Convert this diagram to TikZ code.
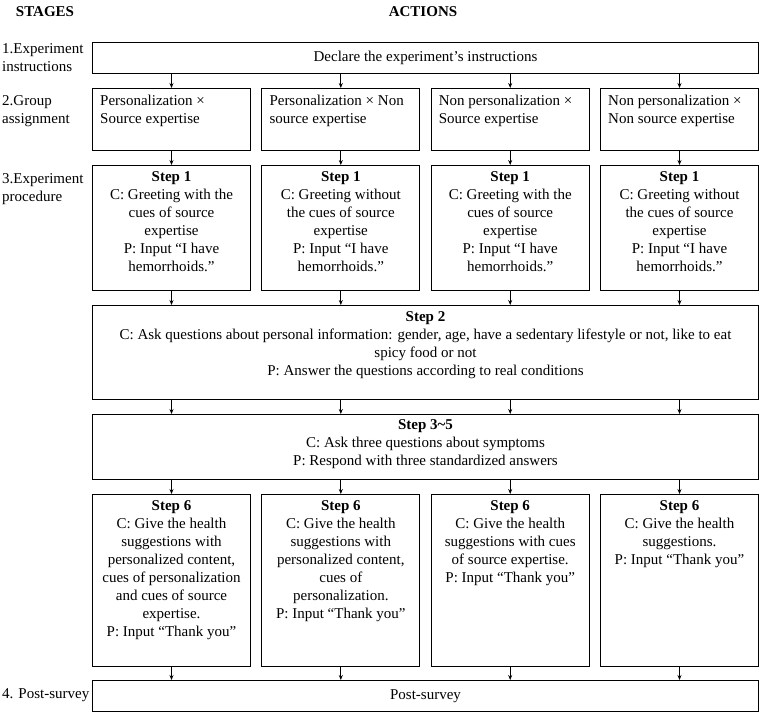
\documentclass[tikz,border=0pt]{standalone}
\usepackage{fontspec}
\setmainfont{Liberation Serif}
\usetikzlibrary{arrows.meta,positioning}

\tikzset{
  frame/.style={draw, line width=1pt, inner sep=0pt},
  txt/.style={font=\fontsize{15}{18}\selectfont, inner sep=1pt, align=center},
  head/.style={font=\fontsize{15}{18}\selectfont\bfseries, inner sep=1pt},
  flow/.style={-{Stealth[length=5pt,width=4pt]}, line width=0.8pt},
}

\begin{document}
\begin{tikzpicture}[x=1pt,y=-1pt]
            \useasboundingbox (0,0) rectangle (760,715);
            % headings
            \node[head] (stages) at (45,12) {STAGES};
            \node[head] (actions) at (423,12) {ACTIONS};
            % stage labels
            \node[txt, align=left, anchor=west] (lblInstr) at (1,57.5) {1.Experiment\\instructions};
            \node[txt, align=left, anchor=west] (lblGroup) at (1,111) {2.Group\\assignment};
            \node[txt, align=left, anchor=west] (lblProc) at (1,189) {3.Experiment\\procedure};
            \node[txt, align=left, anchor=west] (lblPost) at (1,695.5) {4. Post-survey};
            % full width boxes
            \node[frame, txt, minimum width=666pt, minimum height=31pt, anchor=north west] (instr) at (92,42) {Declare the experiment’s instructions};
            \node[frame, minimum width=666pt, minimum height=94pt, anchor=north west] (sTwo) at (92,305) {};
            \node[frame, minimum width=666pt, minimum height=65pt, anchor=north west] (sThree) at (92,414) {};
            \node[frame, txt, minimum width=666pt, minimum height=31pt, anchor=north west] (post) at (92,680) {Post-survey};
            % column boxes
            \foreach \i/\x in {A/92, B/261.3, C/430.7, D/600}{
                \node[frame, minimum width=158pt, minimum height=62pt, anchor=north west] (grp\i) at (\x,88) {};
                \node[frame, minimum width=158pt, minimum height=125pt, anchor=north west] (sOne\i) at (\x,165) {};
                \node[frame, minimum width=158pt, minimum height=172pt, anchor=north west] (sSix\i) at (\x,494) {};
            }
            % group texts
            \node[txt, align=left, below right=6pt and 7pt of grpA.north west] (tGrpA) {Personalization ×\\Source expertise};
            \node[txt, align=left, below right=6pt and 7pt of grpB.north west] (tGrpB) {Personalization × Non\\source expertise};
            \node[txt, align=left, below right=6pt and 7pt of grpC.north west] (tGrpC) {Non personalization ×\\Source expertise};
            \node[txt, align=left, below right=6pt and 7pt of grpD.north west] (tGrpD) {Non personalization ×\\Non source expertise};
            % step 1
            \node[txt, below=5pt of sOneA.north] (tOneA) {\textbf{Step 1}\\C: Greeting with the\\cues of source\\expertise\\P: Input “I have\\hemorrhoids.”};
            \node[txt, below=5pt of sOneB.north] (tOneB) {\textbf{Step 1}\\C: Greeting without\\the cues of source\\expertise\\P: Input “I have\\hemorrhoids.”};
            \node[txt, below=5pt of sOneC.north] (tOneC) {\textbf{Step 1}\\C: Greeting with the\\cues of source\\expertise\\P: Input “I have\\hemorrhoids.”};
            \node[txt, below=5pt of sOneD.north] (tOneD) {\textbf{Step 1}\\C: Greeting without\\the cues of source\\expertise\\P: Input “I have\\hemorrhoids.”};
            % step 2 and steps 3~5
            \node[txt, below=5pt of sTwo.north] (tTwo) {\textbf{Step 2}\\C: Ask questions about personal information: gender, age, have a sedentary lifestyle or not, like to eat\\spicy food or not\\P: Answer the questions according to real conditions};
            \node[txt, below=4pt of sThree.north] (tThree) {\textbf{Step 3\textasciitilde5}\\C: Ask three questions about symptoms\\P: Respond with three standardized answers};
            % step 6
            \node[txt, below=5pt of sSixA.north] (tSixA) {\textbf{Step 6}\\C: Give the health\\suggestions with\\personalized content,\\cues of personalization\\and cues of source\\expertise.\\P: Input “Thank you”};
            \node[txt, below=5pt of sSixB.north] (tSixB) {\textbf{Step 6}\\C: Give the health\\suggestions with\\personalized content,\\cues of\\personalization.\\P: Input “Thank you”};
            \node[txt, below=5pt of sSixC.north] (tSixC) {\textbf{Step 6}\\C: Give the health\\suggestions with cues\\of source expertise.\\P: Input “Thank you”};
            \node[txt, below=5pt of sSixD.north] (tSixD) {\textbf{Step 6}\\C: Give the health\\suggestions.\\P: Input “Thank you”};
            % arrows
            \foreach \i in {A,B,C,D}{
                \draw[flow] (instr.south -| grp\i.north) -- (grp\i.north);
                \draw[flow] (grp\i.south) -- (sOne\i.north);
                \draw[flow] (sOne\i.south) -- (sOne\i.south |- sTwo.north);
                \draw[flow] (sTwo.south -| sOne\i.south) -- (sThree.north -| sOne\i.south);
                \draw[flow] (sThree.south -| sSix\i.north) -- (sSix\i.north);
                \draw[flow] (sSix\i.south) -- (sSix\i.south |- post.north);
            }
        \end{tikzpicture}
\end{document}
